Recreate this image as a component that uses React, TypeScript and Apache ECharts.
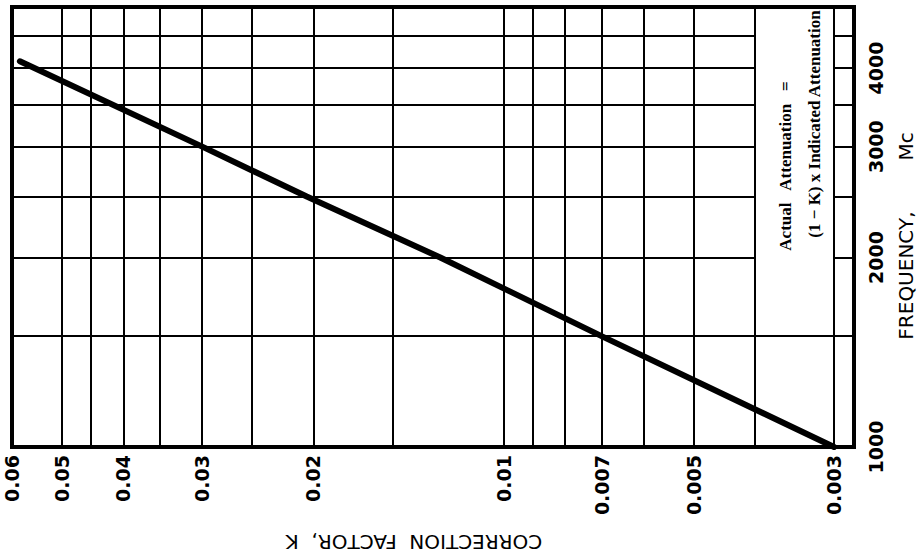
import React, { useEffect, useRef } from "react";
import * as echarts from "echarts";

// Correction factor K (horizontal, logarithmic, reversed)
const K_MIN = 0.00279;
const K_MAX = 0.06;
const K_TICK_LABELS = [0.06, 0.05, 0.04, 0.03, 0.02, 0.01, 0.007, 0.005, 0.003];
const K_GRID = [0.05, 0.045, 0.04, 0.035, 0.03, 0.025, 0.02, 0.015, 0.01, 0.009, 0.008, 0.007, 0.006, 0.005, 0.004, 0.003];

// Frequency, Mc (vertical, logarithmic)
const F_MIN = 1000;
const F_MAX = 5000;
const F_TICK_LABELS = [1000, 2000, 3000, 4000];
const F_GRID_FULL = [1500];
const F_GRID_SPLIT = [2000, 2500, 3000, 3500, 4000, 4500];

// the note box sits between these two K grid lines
const BOX_K_LEFT = 0.004;
const BOX_K_RIGHT = 0.003;

// curve
const CURVE_K = [0.003, 0.007, 0.0126, 0.0205, 0.03, 0.0583];
const CURVE_F = [1000, 1500, 2000, 2500, 3000, 4100];

const NOTE_LINE_1 = "Actual   Attenuation   =";
const NOTE_LINE_2 = "(1 \u2212 K) x Indicated Attenuation";
const X_TITLE = "CORRECTION  FACTOR,  K";
const Y_TITLE = "FREQUENCY,        Mc";

const lg = (v: number) => Math.log10(v);

export default function App() {
  const ref = useRef<HTMLDivElement>(null);
  useEffect(() => {
    if (!ref.current) return;
    const chart = echarts.init(ref.current, null, { renderer: "svg" });
    const gridStyle = { color: "#000", width: 2, type: "solid" as const };
    const vLines = K_GRID.map((k) => ({ xAxis: lg(k) }));
    const hFull = F_GRID_FULL.map((f) => [{ coord: [lg(K_MAX), f] }, { coord: [lg(K_MIN), f] }]);
    const hLeft = F_GRID_SPLIT.map((f) => [{ coord: [lg(K_MAX), f] }, { coord: [lg(BOX_K_LEFT), f] }]);
    const hRight = F_GRID_SPLIT.map((f) => [{ coord: [lg(BOX_K_RIGHT), f] }, { coord: [lg(K_MIN), f] }]);
    const kFmt = (v: number) => String(+Math.pow(10, v).toPrecision(3));
    const fFmt = (v: number) => String(Math.round(v));
    chart.setOption({
      animation: false,
      backgroundColor: "#fff",
      grid: {
        left: 12,
        right: 67,
        top: 7,
        bottom: 111,
        containLabel: false,
        outerBoundsMode: "none",
        show: true,
        borderColor: "#000",
        borderWidth: 4,
        backgroundColor: "#fff",
      },
      xAxis: {
        type: "value",
        inverse: true,
        min: lg(K_MIN),
        max: lg(K_MAX),
        axisLine: { show: false },
        axisTick: { show: false },
        splitLine: { show: false },
        axisLabel: {
          customValues: K_TICK_LABELS.map(lg),
          formatter: kFmt,
          rotate: 90,
          margin: 8,
          color: "#000",
          fontFamily: "DejaVu Sans",
          fontWeight: "bold",
          fontSize: 19,
        },
      },
      yAxis: {
        type: "log",
        logBase: 10,
        position: "right",
        min: F_MIN,
        max: F_MAX,
        axisLine: { show: false },
        axisTick: { show: false },
        splitLine: { show: false },
        minorSplitLine: { show: false },
        axisLabel: {
          customValues: F_TICK_LABELS,
          formatter: fFmt,
          rotate: 90,
          margin: 12,
          color: "#000",
          fontFamily: "DejaVu Sans",
          fontWeight: "bold",
          fontSize: 19,
        },
        name: Y_TITLE,
        nameLocation: "middle",
        nameRotate: 90,
        nameGap: 42,
        nameTextStyle: {
          color: "#000",
          fontFamily: "DejaVu Sans",
          fontSize: 20,
          padding: [0, 18, 0, 0],
        },
      },
      series: [
        {
          type: "line",
          data: [],
          silent: true,
          markLine: {
            silent: true,
            precision: 10,
            symbol: ["none", "none"],
            label: { show: false },
            lineStyle: gridStyle,
            emphasis: { disabled: true },
            data: [...vLines, ...hFull, ...hLeft, ...hRight],
          },
        },
        {
          type: "line",
          data: CURVE_K.map((k, i) => [lg(k), CURVE_F[i]]),
          symbol: "none",
          silent: true,
          z: 5,
          lineStyle: { color: "#000", width: 6, cap: "round" },
        },
      ],
      graphic: [
        {
          type: "text",
          x: 785,
          y: 166,
          rotation: Math.PI / 2,
          style: {
            text: NOTE_LINE_1,
            fill: "#000",
            fontFamily: "Liberation Serif",
            fontWeight: "bold",
            fontSize: 17,
            align: "center",
            verticalAlign: "middle",
            textAlign: "center",
            textVerticalAlign: "middle",
          },
        },
        {
          type: "text",
          x: 814,
          y: 124,
          rotation: Math.PI / 2,
          style: {
            text: NOTE_LINE_2,
            fill: "#000",
            fontFamily: "Liberation Serif",
            fontWeight: "bold",
            fontSize: 17,
            align: "center",
            verticalAlign: "middle",
            textAlign: "center",
            textVerticalAlign: "middle",
          },
        },
        {
          type: "text",
          x: 414,
          y: 542,
          rotation: Math.PI,
          style: {
            text: X_TITLE,
            fill: "#000",
            fontFamily: "DejaVu Sans",
            fontSize: 20,
            align: "center",
            verticalAlign: "middle",
            textAlign: "center",
            textVerticalAlign: "middle",
          },
        },
      ],
    });
    return () => chart.dispose();
  }, []);
  return (
    <div
      ref={ref}
      style={{ position: "fixed", left: 0, top: 0, width: 921, height: 558, background: "#fff" }}
    />
  );
}
